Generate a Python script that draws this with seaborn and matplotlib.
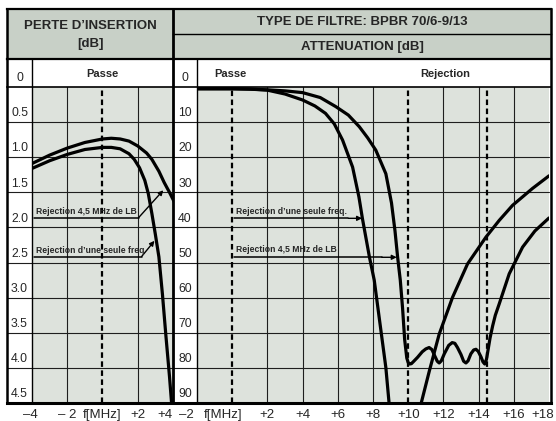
import matplotlib
matplotlib.use("Agg")
import matplotlib.pyplot as plt
import matplotlib.transforms as mtransforms
import seaborn as sns
from matplotlib.patches import Rectangle

# ---- insertion loss panel (dB vs f MHz) ----
il_freq_lb = [-4, -3, -2, -1, 0, 0.5, 1.0, 1.5, 2.0, 2.5, 2.8, 3.2, 3.5, 3.8, 4.1]
il_db_lb = [1.09, 0.97, 0.87, 0.79, 0.74, 0.73, 0.74, 0.77, 0.84, 0.94, 1.03, 1.2, 1.36, 1.5, 1.65]
il_freq_single = [-4, -3, -2, -1, 0, 0.5, 1.0, 1.5, 1.8, 2.1, 2.4, 2.6, 2.8, 3.0, 3.2, 3.4,
                  3.6, 3.8, 3.95]
il_db_single = [1.16, 1.05, 0.96, 0.89, 0.86, 0.86, 0.88, 0.95, 1.03, 1.15, 1.33, 1.52, 1.8,
                2.1, 2.42, 2.95, 3.55, 4.12, 4.6]

# ---- attenuation panel (dB vs f MHz) ----
at_freq_single = [-2, 0, 1, 2, 3, 4, 4.7, 5.3, 5.8, 6.27, 6.84, 7.2, 7.4, 7.8, 8.07, 8.35,
                  8.73, 8.92, 9.05, 10.6, 10.72, 11.2, 11.76, 12.52, 13.37, 14.41, 15.17,
                  15.93, 17.06, 18]
at_db_single = [0.5, 0.5, 0.6, 0.9, 2.0, 3.7, 5.4, 7.5, 10.5, 15.1, 22.8, 31.3, 37.5, 48.5, 55,
                65.6, 79.9, 90.4, 96, 96, 90.4, 80.9, 70.4, 59.9, 50.4, 42.8, 38, 33.7, 28.9, 25.3]
at_freq_lb = [-2, 0, 1, 2, 3, 4, 5, 5.89, 6.6, 7.22, 7.7, 8.16, 8.73, 9.05, 9.25, 9.4, 9.55,
              9.68, 9.8, 9.92, 10.0, 10.08, 10.18, 10.3, 10.53, 10.8, 11.0, 11.19, 11.35,
              11.5, 11.65, 11.76, 11.88, 12.05, 12.3, 12.5, 12.65, 12.8, 13.0, 13.15, 13.28,
              13.4, 13.56, 13.72, 13.85, 13.98, 14.13, 14.25, 14.35, 14.45, 14.55, 14.65,
              14.8, 14.95, 15.17, 15.74, 16.5, 17.2, 18]
at_db_lb = [0.5, 0.5, 0.6, 0.8, 1.1, 1.6, 3.0, 5.6, 8.0, 11.3, 14.5, 18, 24.7, 33, 41, 48.5, 55,
            63, 72, 77.2, 78.5, 78.9, 78.8, 78.2, 77.0, 75.4, 74.6, 74.2, 74.8, 76.5, 78.1,
            78.6, 78.0, 76.0, 73.6, 72.8, 73.0, 74.2, 76.2, 78.1, 78.6, 78.0, 76.0, 74.9,
            74.7, 75.3, 76.8, 78.3, 78.9, 77.5, 74.5, 71.5, 68, 65, 61.8, 53.2, 45.6, 41, 37.3]

il_ticks = [0, 0.5, 1.0, 1.5, 2.0, 2.5, 3.0, 3.5, 4.0, 4.5]
il_tick_labels = ["0", "0.5", "1.0", "1.5", "2.0", "2.5", "3.0", "3.5", "4.0", "4.5"]
at_ticks = [0, 10, 20, 30, 40, 50, 60, 70, 80, 90]
il_xticks = [-4, -2, 0, 2, 4]
il_xlabels = ["–4", "– 2", "f[MHz]", "+2", "+4"]
at_xticks = [-2, 0, 2, 4, 6, 8, 10, 12, 14, 16, 18]
at_xlabels = ["–2", "f[MHz]", "+2", "+4", "+6", "+8", "+10", "+12", "+14", "+16", "+18"]

HEADER = "#c8d0c7"
PLOT_BG = "#dde2dc"
GRID = "#1e1e1e"

sns.set_style("white")
plt.rcParams["font.family"] = ["Liberation Sans", "DejaVu Sans"]
plt.rcParams["lines.scale_dashes"] = False

W, H = 556, 421
fig = plt.figure(figsize=(W / 100, H / 100), dpi=100)
fig.patch.set_facecolor("white")

bg = fig.add_axes([0, 0, 1, 1], zorder=0)
bg.set_xlim(0, W)
bg.set_ylim(H, 0)
bg.axis("off")
bg.add_patch(Rectangle((7, 9), 544, 50, facecolor=HEADER, edgecolor="none"))
hdr = dict(ha="center", va="center", fontsize=9.5, fontweight="bold")
bg.text(90, 26, "PERTE D’INSERTION", **hdr)
bg.text(90, 44, "[dB]", **hdr)
bg.text(362, 22, "TYPE DE FILTRE: BPBR 70/6-9/13", **hdr)
bg.text(362, 47, "ATTENUATION [dB]", **hdr)


def px_axes(x0, x1):
    return [x0 / W, 1 - 403 / H, (x1 - x0) / W, (403 - 87) / H]


ax_il = fig.add_axes(px_axes(32, 173), zorder=1)
ax_at = fig.add_axes(px_axes(197, 549), zorder=1)

panels = [
    (ax_il, (-4, 4), (4.5, 0), [-2, 2], [0], il_ticks, il_tick_labels, -25 / 141,
     -12.5 / 141, il_xticks, il_xlabels),
    (ax_at, (-2, 18), (90, 0), [2, 4, 6, 8, 12, 14, 16], [0, 10, 14.5], at_ticks,
     [str(t) for t in at_ticks], -24 / 352, -12 / 352, at_xticks, at_xlabels),
]
for ax, xl, yl, vgrid, vdash, yt, ytl, ext, lab_x, xt, xtl in panels:
    ax.set_facecolor(PLOT_BG)
    ax.set_xlim(*xl)
    ax.set_ylim(*yl)
    for s in ax.spines.values():
        s.set_visible(False)
    for v in vgrid:
        ax.axvline(v, color=GRID, lw=0.8, zorder=1)
    for v in vdash:
        ax.axvline(v, color="black", lw=1.6, ls=(0, (4, 2.5)), zorder=2)
    for v, lab in zip(yt, ytl):
        if 0 < v < yl[0]:
            ax.axhline(v, xmin=ext, xmax=1, color=GRID, lw=0.8, clip_on=False, zorder=1)
        ax.annotate(lab, xy=(lab_x, v), xycoords=("axes fraction", "data"),
                    xytext=(0, 2), textcoords="offset points",
                    ha="center", va="bottom", fontsize=8.8, annotation_clip=False)

curve = dict(color="black", lw=2.3, estimator=None, sort=False, zorder=4,
             solid_joinstyle="round", solid_capstyle="round")
sns.lineplot(x=il_freq_lb, y=il_db_lb, ax=ax_il, **curve)
sns.lineplot(x=il_freq_single, y=il_db_single, ax=ax_il, **curve)
sns.lineplot(x=at_freq_single, y=at_db_single, ax=ax_at, **curve)
sns.lineplot(x=at_freq_lb, y=at_db_lb, ax=ax_at, **curve)

for ax, xt, xtl in [(ax_il, il_xticks, il_xlabels), (ax_at, at_xticks, at_xlabels)]:
    ax.set_xlabel("")
    ax.set_ylabel("")
    ax.set_yticks([])
    ax.set_xticks(xt, xtl)
    ax.tick_params(axis="x", length=0, pad=4, labelsize=9.5)


def nudge(label, dx_px, ha=None):
    if ha:
        label.set_horizontalalignment(ha)
    label.set_transform(label.get_transform()
                        + mtransforms.ScaledTranslation(dx_px / 100, 0, fig.dpi_scale_trans))


il_labels = ax_il.get_xticklabels()
at_labels = ax_at.get_xticklabels()
nudge(il_labels[0], -2)
nudge(il_labels[-1], 0, "right")
nudge(at_labels[0], -3, "right")
nudge(at_labels[1], -9)
nudge(at_labels[-1], 5, "right")

# band labels in the white row
band = dict(xycoords=("data", "axes fraction"), xytext=(0, 9.5), textcoords="offset points",
            ha="center", va="center", fontsize=8, fontweight="bold", annotation_clip=False)
ax_il.annotate("Passe", xy=(0, 1), **band)
ax_at.annotate("Passe", xy=(-0.1, 1), **band)
ax_at.annotate("Rejection", xy=(12.1, 1), **band)

# curve call-outs
note = dict(fontsize=6.2, fontweight="bold", va="bottom", ha="left", zorder=5)
arrow = dict(arrowstyle="-|>", color="black", lw=1.0, mutation_scale=7, shrinkA=0, shrinkB=0)
ax_il.text(-3.75, 1.83, "Rejection 4,5 MHz de LB", **note)
ax_il.plot([-3.86, 2.05], [1.86, 1.86], color="black", lw=1.1, zorder=5)
ax_il.annotate("", xy=(3.45, 1.47), xytext=(2.05, 1.86), arrowprops=arrow)
ax_il.text(-3.75, 2.39, "Rejection d’une seule freq", **note)
ax_il.plot([-3.86, 2.22], [2.414, 2.414], color="black", lw=1.1, zorder=5)
ax_il.annotate("", xy=(2.95, 2.19), xytext=(2.22, 2.414), arrowprops=arrow)

ax_at.text(0.23, 36.8, "Rejection d’une seule freq.", **note)
ax_at.plot([0.11, 6.6], [37.4, 37.4], color="black", lw=1.1, zorder=5)
ax_at.annotate("", xy=(7.38, 37.4), xytext=(6.6, 37.4), arrowprops=arrow)
ax_at.text(0.23, 47.6, "Rejection 4,5 MHz de LB", **note)
ax_at.plot([0.11, 8.5], [48.5, 48.5], color="black", lw=1.1, zorder=5)
ax_at.annotate("", xy=(9.35, 48.5), xytext=(8.5, 48.5), arrowprops=arrow)

# frame on top
ov = fig.add_axes([0, 0, 1, 1], zorder=5)
ov.set_xlim(0, W)
ov.set_ylim(H, 0)
ov.axis("off")
frame = [
    ((7, 551), (9, 9), 1.6), ((7, 7), (9, 403), 1.8), ((551, 551), (9, 403), 1.8),
    ((7, 551), (403, 403), 2.2), ((173, 173), (9, 403), 2.0), ((7, 551), (59, 59), 1.6),
    ((173, 551), (34, 34), 1.0), ((7, 551), (87, 87), 1.2), ((32, 32), (59, 403), 1.0),
    ((197, 197), (59, 403), 1.0),
]
for xs, ys, lw in frame:
    ov.plot(xs, ys, color="black", lw=lw, solid_capstyle="projecting")

fig.savefig("out.png", dpi=100)
